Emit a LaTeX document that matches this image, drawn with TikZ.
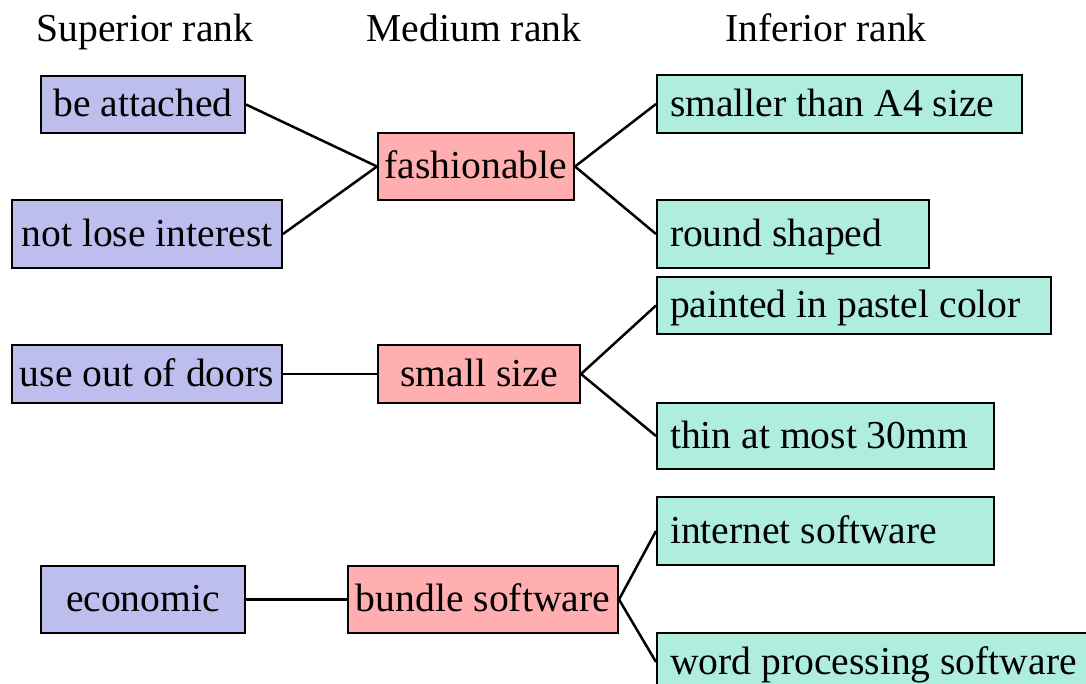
\documentclass[tikz,border=0pt]{standalone}
\usepackage{fontspec}
\setmainfont{Liberation Serif}
\definecolor{suplav}{RGB}{190,190,238}
\definecolor{medpink}{RGB}{255,175,175}
\definecolor{infmint}{RGB}{175,238,222}
\tikzstyle{rankbox}=[draw,line width=2pt,inner sep=0pt,text height=30pt,text depth=6pt,font=\fontsize{39.6}{46}\selectfont]
\tikzstyle{ranklabel}=[inner sep=0pt,anchor=base,font=\fontsize{39.6}{46}\selectfont]

\begin{document}
\begin{tikzpicture}[x=1pt,y=-1pt]
  \clip (0,0) rectangle (1086,683);
  \node[ranklabel] (hsup) at (145,41) {Superior rank};
  \node[ranklabel] (hmed) at (474,41) {Medium rank};
  \node[ranklabel] (hinf) at (826,41) {Inferior rank};
  % superior rank
  \foreach \place/\name/\w/\h/\txt in {{(143,104.5)/sa/204/57/be attached},
                                       {(147,234)/sb/270/68/not lose interest},
                                       {(147,374)/sc/270/58/use out of doors},
                                       {(143,599.5)/sd/204/67/economic}}
    \node[rankbox,fill=suplav,minimum width=\w pt,minimum height=\h pt] (\name) at \place {\txt};
  % medium rank
  \foreach \place/\name/\w/\h/\txt in {{(476,166.5)/ma/196/67/fashionable},
                                       {(479,374)/mb/202/58/small size},
                                       {(483,599.5)/mc/270/67/bundle software}}
    \node[rankbox,fill=medpink,minimum width=\w pt,minimum height=\h pt] (\name) at \place {\txt};
  % inferior rank
  \foreach \place/\name/\w/\h/\txt in {{(656,104)/ia/365/58/smaller than A4 size},
                                       {(656,234)/ib/272/68/round shaped},
                                       {(656,305.5)/ic/394/57/painted in pastel color},
                                       {(656,436)/id/337/66/thin at most 30mm},
                                       {(656,531)/ie/337/68/internet software},
                                       {(656,662)/if/440/58/word processing software}}
    \node[rankbox,fill=infmint,anchor=west,inner xsep=13pt,text width=\w pt-26pt,align=flush left,minimum height=\h pt] (\name) at \place {\txt};
  \foreach \source/\dest in {sa/ma,sb/ma,sc/mb,sd/mc,
                             ma/ia,ma/ib,mb/ic,mb/id,mc/ie,mc/if}
    \draw[line width=2.5pt] (\source.east) -- (\dest.west);
\end{tikzpicture}
\end{document}
